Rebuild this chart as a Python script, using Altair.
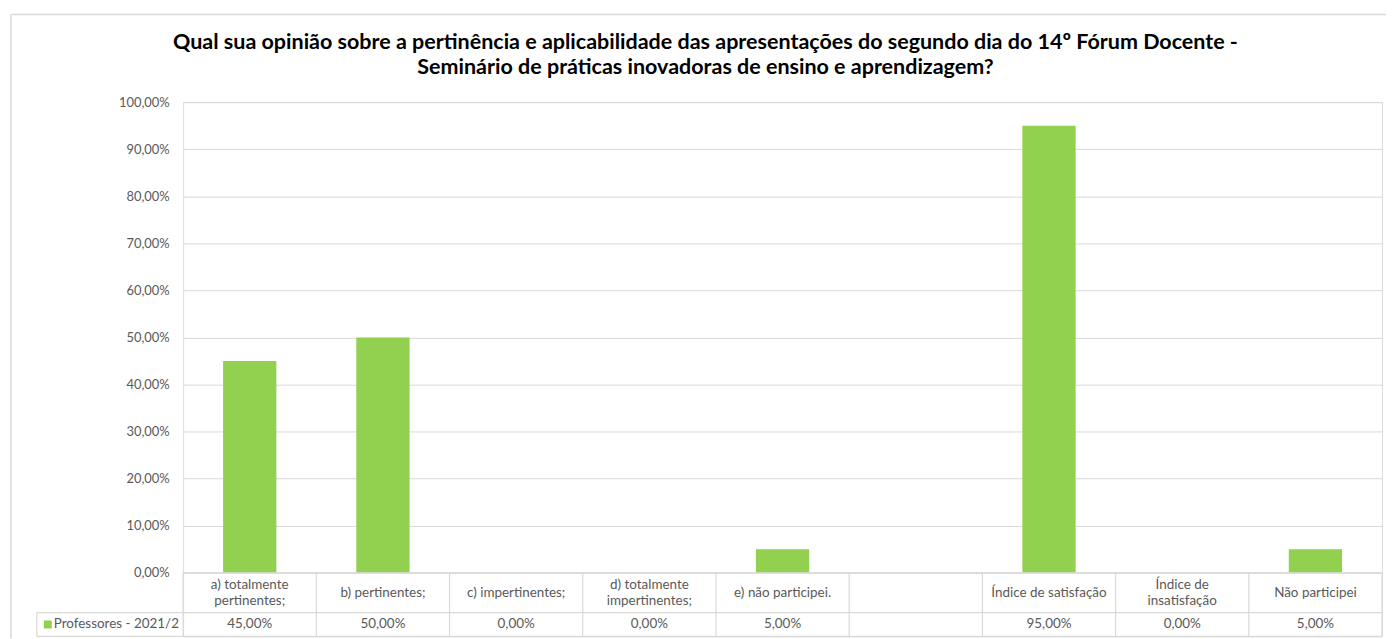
import altair as alt
import pandas as pd

# ---- data ----
categories = [
    "a) totalmente pertinentes;", "b) pertinentes;", "c) impertinentes;",
    "d) totalmente impertinentes;", "e) não participei.", " ",
    "Índice de satisfação", "Índice de insatisfação", "Não participei",
]
header_labels = [
    "a) totalmente\npertinentes;", "b) pertinentes;", "c) impertinentes;",
    "d) totalmente\nimpertinentes;", "e) não participei.", "",
    "Índice de satisfação", "Índice de\ninsatisfação", "Não participei",
]
values = [45.0, 50.0, 0.0, 0.0, 5.0, None, 95.0, 0.0, 5.0]
value_labels = ["45,00%", "50,00%", "0,00%", "0,00%", "5,00%", "", "95,00%", "0,00%", "5,00%"]
series_name = "Professores - 2021/2"
y_ticks = [0, 10, 20, 30, 40, 50, 60, 70, 80, 90, 100]
title_lines = [
    "Qual sua opinião sobre a pertinência e aplicabilidade das apresentações do segundo dia do 14º Fórum Docente -",
    "Seminário de práticas inovadoras de ensino e aprendizagem?",
]

GREEN = "#92D050"
GRID = "#D9D9D9"
TXT = "#595959"
FONT = "Lato"
W, H = 1205, 473
TH = 64  # table height
ROW1 = 40  # header row height

df = pd.DataFrame({"cat": categories, "value": values})

bars = alt.Chart(df).mark_bar(color=GREEN).encode(
    x=alt.X("cat:N", sort=categories,
            scale=alt.Scale(domain=categories, paddingInner=0.6, paddingOuter=0.3),
            axis=None),
    y=alt.Y("value:Q", scale=alt.Scale(domain=[0, 100], nice=False),
            axis=alt.Axis(values=y_ticks, title=None, domain=False, ticks=False,
                          labelExpr="replace(format(datum.value, '.2f'), '.', ',') + '%'",
                          labelColor=TXT, labelFont=FONT, labelFontSize=13,
                          labelPadding=14, gridColor=GRID, gridWidth=1)),
)

title_df = pd.DataFrame({"t": ["\n".join(title_lines)]})
title = alt.Chart(title_df).mark_text(
    font=FONT, fontSize=21.6, fontWeight="bold", color="#000000",
    lineBreak="\n", lineHeight=25, baseline="middle", align="center",
).encode(x=alt.value(525), y=alt.value(-59), text="t:N")

frame_df = pd.DataFrame({"k": [0]})
frame_left = alt.Chart(frame_df).mark_rule(color=GRID, strokeWidth=1.5).encode(
    x=alt.value(-173), y=alt.value(-88), y2=alt.value(H))
frame_top = alt.Chart(frame_df).mark_rule(color=GRID, strokeWidth=1.5).encode(
    x=alt.value(-173), x2=alt.value(W + 4), y=alt.value(-88))

top = alt.layer(bars, title, frame_left, frame_top).properties(width=W, height=H)

# ---- data table ----
n = len(categories)
tdf = pd.DataFrame({
    "xc": [i + 0.5 for i in range(n)],
    "header": header_labels,
    "val": value_labels,
})
tdf["hy"] = [ROW1 / 2 - 8 * h.count("\n") for h in header_labels]
xs = alt.Scale(domain=[0, n], nice=False, zero=False)
ys = alt.Scale(domain=[0, TH], nice=False, reverse=True)

hdr = alt.Chart(tdf).mark_text(
    font=FONT, fontSize=13.5, color=TXT, lineBreak="\n", lineHeight=16,
    baseline="middle", align="center",
).encode(x=alt.X("xc:Q", scale=xs, axis=None),
         y=alt.Y("hy:Q", scale=ys, axis=None), text="header:N")

vals = alt.Chart(tdf).mark_text(
    font=FONT, fontSize=13.5, color=TXT, baseline="middle", align="center",
).encode(x=alt.X("xc:Q", scale=xs, axis=None),
         y=alt.Y(datum=52, scale=ys, axis=None), text="val:N")

bdf = pd.DataFrame({"b": list(range(n + 1))})
vrules = alt.Chart(bdf).mark_rule(color=GRID, strokeWidth=1.2).encode(
    x=alt.X("b:Q", scale=xs, axis=None),
    y=alt.Y(datum=0, scale=ys, axis=None), y2=alt.Y2(datum=TH))

hdf = pd.DataFrame({"y": [ROW1, TH]})
hrules = alt.Chart(hdf).mark_rule(color=GRID, strokeWidth=1.2).encode(
    x=alt.value(-147), x2=alt.value(W),
    y=alt.Y("y:Q", scale=ys, axis=None))
leg_cell = alt.Chart(frame_df).mark_rule(color=GRID, strokeWidth=1.2).encode(
    x=alt.value(-147), y=alt.Y(datum=ROW1, scale=ys, axis=None), y2=alt.Y2(datum=TH))
top_rule = alt.Chart(frame_df).mark_rule(color=GRID, strokeWidth=1.2).encode(
    x=alt.value(0), x2=alt.value(W), y=alt.Y(datum=0, scale=ys, axis=None))
left_rule = alt.Chart(frame_df).mark_rule(color=GRID, strokeWidth=1.5).encode(
    x=alt.value(-173), y=alt.Y(datum=0, scale=ys, axis=None), y2=alt.Y2(datum=TH + 2))

leg_df = pd.DataFrame({"name": [series_name]})
leg_sq = alt.Chart(leg_df).mark_square(color=GREEN, size=64, opacity=1, filled=True).encode(
    x=alt.value(-136), y=alt.Y(datum=52, scale=ys, axis=None))
leg_tx = alt.Chart(leg_df).mark_text(
    font=FONT, fontSize=13.5, color=TXT, baseline="middle", align="left",
).encode(x=alt.value(-130), y=alt.Y(datum=52, scale=ys, axis=None), text="name:N")

table = alt.layer(vrules, hrules, leg_cell, top_rule, left_rule, hdr, vals, leg_sq, leg_tx).properties(
    width=W, height=TH)

chart = alt.vconcat(top, table, spacing=0, bounds="flush").properties(
    padding={"left": 1, "top": 3, "right": 0, "bottom": 0},
).configure_view(stroke=None).configure(font=FONT)

chart.save("out.html", embed_options={"renderer": "svg", "actions": False})
